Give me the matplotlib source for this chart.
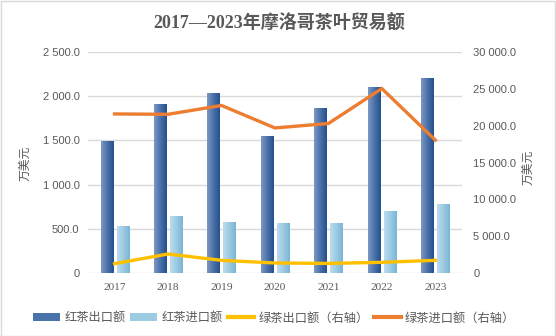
import numpy as np
import matplotlib
matplotlib.use("Agg")
import matplotlib.pyplot as plt
from matplotlib.patches import Patch, Rectangle
from matplotlib.lines import Line2D
from matplotlib.colors import LinearSegmentedColormap
from matplotlib.ticker import FuncFormatter, MultipleLocator

plt.rcParams['font.family'] = ['Noto Sans CJK SC', 'DejaVu Sans']

years = ['2017', '2018', '2019', '2020', '2021', '2022', '2023']
black_export = [1490, 1910, 2035, 1550, 1865, 2100, 2205]
black_import = [532, 645, 577, 566, 566, 701, 780]
green_export = [1270, 2580, 1720, 1360, 1300, 1450, 1720]
green_import = [21600, 21550, 22750, 19700, 20300, 25050, 18050]
series_names = ['红茶出口额', '红茶进口额', '绿茶出口额（右轴）', '绿茶进口额（右轴）']
title = '2017—2023年摩洛哥茶叶贸易额'
unit = '万美元'

TXT = '#595959'
GRID = '#d9d9d9'
ORANGE = '#ED7D31'
YELLOW = '#FFC000'

fig = plt.figure(figsize=(5.56, 3.36), dpi=100)
ax = fig.add_axes([0.158, 0.1875, 0.673, 0.6575])
ax2 = ax.twinx()

x = np.arange(len(years))
w = 0.225
off = 0.15

dark_cmap = LinearSegmentedColormap.from_list('d', ['#7d98c2', '#4a72aa', '#24508c'])
light_cmap = LinearSegmentedColormap.from_list('l', ['#bcdcec', '#9ccbe3', '#78b5d6'])
grad = np.linspace(0, 1, 64).reshape(1, -1)

bars1 = ax.bar(x - off, black_export, width=w, color='#4a72aa', zorder=2)
bars2 = ax.bar(x + off, black_import, width=w, color='#9ccbe3', zorder=2)
for bars, cmap in ((bars1, dark_cmap), (bars2, light_cmap)):
    for b in bars:
        x0 = b.get_x(); x1 = x0 + b.get_width(); h = b.get_height()
        im = ax.imshow(grad, cmap=cmap, extent=[x0, x1, 0, h], aspect='auto',
                       zorder=3, interpolation='bilinear')
        im.set_clip_path(b)

ax.set_xlim(-0.5, len(years) - 0.5)
ax.set_ylim(0, 2500)
ax2.set_ylim(0, 30000)

ax2.plot(x, green_export, color=YELLOW, lw=2.4, solid_joinstyle='miter', zorder=4)
ax2.plot(x, green_import, color=ORANGE, lw=2.4, solid_joinstyle='miter', zorder=4)

def fmt(v, pos):
    if v == 0:
        return '0'
    s = f'{v:,.1f}'
    return s.replace(',', ' ')

ax.yaxis.set_major_locator(MultipleLocator(500))
ax2.yaxis.set_major_locator(MultipleLocator(5000))
ax.yaxis.set_major_formatter(FuncFormatter(fmt))
ax2.yaxis.set_major_formatter(FuncFormatter(fmt))

ax.grid(axis='y', color=GRID, lw=1, zorder=0)
ax.set_axisbelow(True)
for a in (ax, ax2):
    for s in a.spines.values():
        s.set_visible(False)

ax.set_xticks(x)
ax.set_xticklabels(years, family=['Liberation Serif'], fontsize=8.2, color=TXT)
ax.tick_params(axis='x', length=0, pad=7)
ax.tick_params(axis='y', length=0, pad=6, labelsize=8, labelcolor=TXT)
ax2.tick_params(axis='y', length=0, pad=8, labelsize=8, labelcolor=TXT)
for lab in ax.get_yticklabels() + ax2.get_yticklabels():
    lab.set_family(['Liberation Sans'])

fig.text(0.045, 0.515, unit, rotation=90, ha='center', va='center', fontsize=8.5, color=TXT)
fig.text(0.95, 0.503, unit, rotation=90, ha='center', va='center', fontsize=8.5, color=TXT)

fig.text(0.502, 0.93, title, ha='center', va='center', fontsize=13, fontweight='bold',
         color=TXT, family=['Liberation Serif', 'Noto Sans CJK SC'])

handles = [Patch(facecolor='#4a72aa', edgecolor='none'),
           Patch(facecolor='#9ccbe3', edgecolor='none'),
           Line2D([], [], color=YELLOW, lw=3),
           Line2D([], [], color=ORANGE, lw=3)]
leg = fig.legend(handles, series_names, loc='center', bbox_to_anchor=(0.493, 0.054), ncol=4,
                 frameon=False, fontsize=8.8, handlelength=2.2, handleheight=0.55,
                 handletextpad=0.35, columnspacing=0.4, labelcolor=TXT)

fig.patches.append(Rectangle((0.001, 0.001), 0.997, 0.997, transform=fig.transFigure,
                             fill=False, edgecolor=GRID, lw=1))

fig.savefig('out.png', dpi=100)
